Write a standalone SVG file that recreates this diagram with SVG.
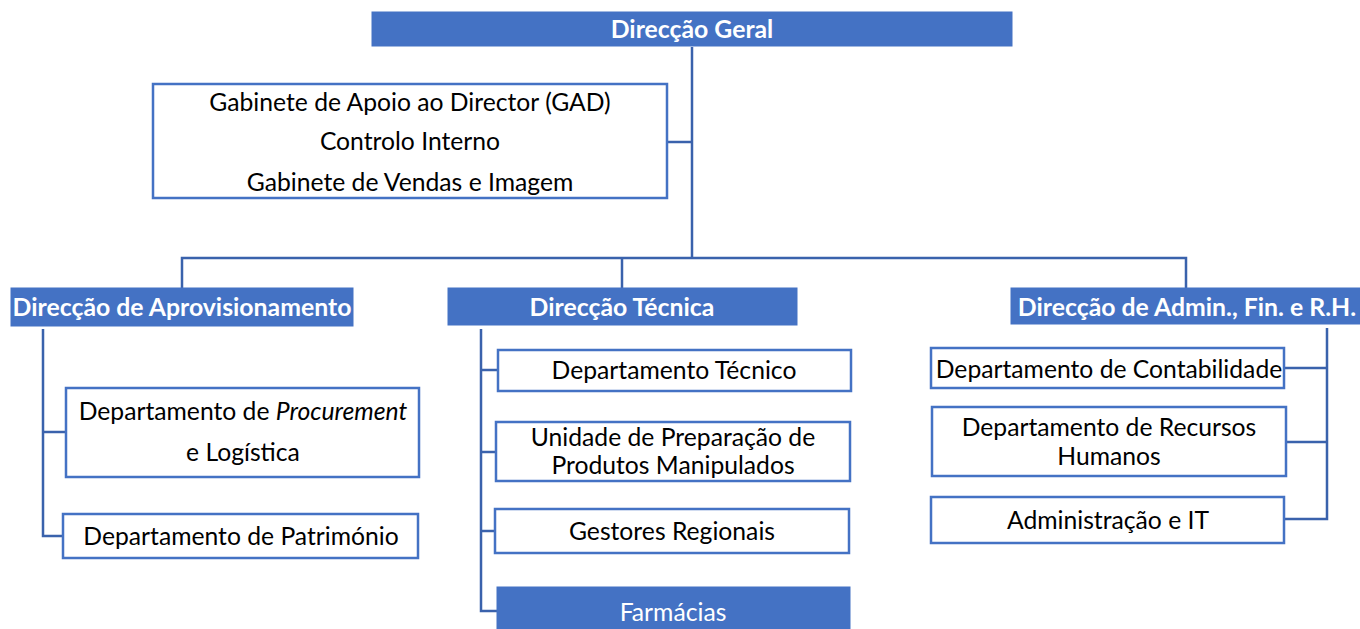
<svg xmlns="http://www.w3.org/2000/svg" width="1360" height="629" viewBox="0 0 1360 629">
<style>
.head{fill:#4472C4;stroke:#4472C4;stroke-width:1}
.box{fill:#FFFFFF;stroke:#4472C4;stroke-width:2.5}
.ht{font-family:Lato,"Liberation Sans",sans-serif;font-weight:bold;font-size:24.8px;fill:#FFFFFF;text-anchor:middle}
.bt{font-family:Lato,"Liberation Sans",sans-serif;font-size:24.7px;fill:#000000;text-anchor:middle}
.wt{font-family:Lato,"Liberation Sans",sans-serif;font-size:24.7px;fill:#FFFFFF;text-anchor:middle}
.c{fill:none;stroke:#3A62AC;stroke-width:2.5}
</style>
<rect width="1360" height="629" fill="#FFFFFF"/>
<g id="connectors">
<path class="c" d="M692 47 V258"/>
<path class="c" d="M668 142 H692"/>
<path class="c" d="M182 288 V258 H1186 V288"/>
<path class="c" d="M622 258 V288"/>
<path class="c" d="M43 329 V536 H63"/>
<path class="c" d="M43 432 H66"/>
<path class="c" d="M481 329 V611 H497"/>
<path class="c" d="M481 370 H498"/>
<path class="c" d="M481 452 H496"/>
<path class="c" d="M481 531 H495"/>
<path class="c" d="M1327 328 V519 H1284"/>
<path class="c" d="M1327 368 H1284"/>
<path class="c" d="M1327 442 H1286"/>
</g>
<g id="direccao-geral">
<rect class="head" x="372" y="12" width="640" height="34"/>
<text class="ht" x="692" y="38">Direcção Geral</text>
</g>
<g id="gabinetes">
<rect class="box" x="153" y="84" width="514" height="114"/>
<text class="bt" x="410" y="111">Gabinete de Apoio ao Director (GAD)</text>
<text class="bt" x="410" y="150">Controlo Interno</text>
<text class="bt" x="410" y="191">Gabinete de Vendas e Imagem</text>
</g>
<g id="direccao-aprovisionamento">
<rect class="head" x="11" y="288" width="342" height="38"/>
<text class="ht" x="182" y="316">Direcção de Aprovisionamento</text>
</g>
<g id="dep-procurement">
<rect class="box" x="66" y="388" width="353" height="89"/>
<text class="bt" x="243" y="420">Departamento de <tspan font-style="italic">Procurement</tspan></text>
<text class="bt" x="243" y="461">e Logística</text>
</g>
<g id="dep-patrimonio">
<rect class="box" x="63" y="514" width="355" height="44"/>
<text class="bt" x="241" y="545">Departamento de Património</text>
</g>
<g id="direccao-tecnica">
<rect class="head" x="448" y="288" width="349" height="37"/>
<text class="ht" x="622" y="316">Direcção Técnica</text>
</g>
<g id="dep-tecnico">
<rect class="box" x="498" y="350" width="353" height="41"/>
<text class="bt" x="674" y="379">Departamento Técnico</text>
</g>
<g id="unidade-preparacao">
<rect class="box" x="496" y="422" width="354" height="59"/>
<text class="bt" x="673" y="446">Unidade de Preparação de</text>
<text class="bt" x="673" y="474">Produtos Manipulados</text>
</g>
<g id="gestores-regionais">
<rect class="box" x="495" y="509" width="354" height="44"/>
<text class="bt" x="672" y="540">Gestores Regionais</text>
</g>
<g id="farmacias">
<rect class="head" x="497" y="587" width="353" height="44"/>
<text class="wt" x="673" y="621">Farmácias</text>
</g>
<g id="direccao-admin">
<rect class="head" x="1011" y="288" width="349" height="36"/>
<text class="ht" x="1187" y="316">Direcção de Admin., Fin. e R.H.</text>
</g>
<g id="dep-contabilidade">
<rect class="box" x="931" y="348" width="353" height="40"/>
<text class="bt" x="1109" y="378">Departamento de Contabilidade</text>
</g>
<g id="dep-rh">
<rect class="box" x="932" y="407" width="354" height="69"/>
<text class="bt" x="1109" y="436">Departamento de Recursos</text>
<text class="bt" x="1109" y="465">Humanos</text>
</g>
<g id="admin-it">
<rect class="box" x="931" y="497" width="353" height="46"/>
<text class="bt" x="1108" y="529">Administração e IT</text>
</g>
</svg>
